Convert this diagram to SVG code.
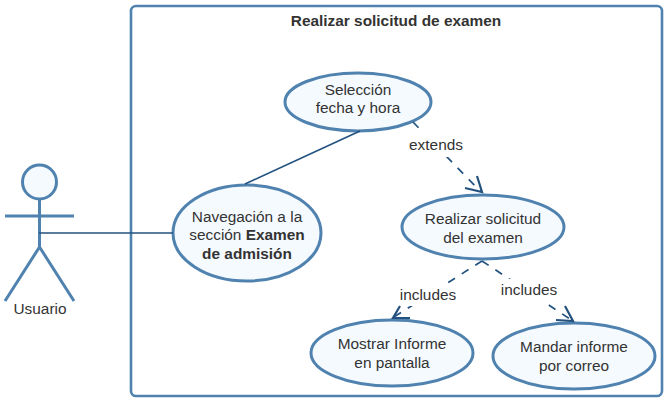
<svg xmlns="http://www.w3.org/2000/svg" width="670" height="404" viewBox="0 0 670 404">
<style>
text{font-family:"Liberation Sans",Arial,sans-serif;font-size:15.4px;fill:#333;text-anchor:middle}
.b{font-weight:bold}
.uc{fill:#f5faff;stroke:#5082b0;stroke-width:3}
.act{fill:none;stroke:#5082b0;stroke-width:3}
.c{fill:none;stroke:#23527f;stroke-width:1.7}
.d{stroke-dasharray:8 8}
.h{fill:none;stroke:#23527f;stroke-width:2.2}
.lb{fill:#fff;stroke:none}
</style>
<rect width="670" height="404" fill="#fff"/>
<g id="boundary"><rect x="131" y="6" width="531" height="390" rx="5" fill="#fff" stroke="#5082b0" stroke-width="2.6"/><text x="396" y="26" class="b">Realizar solicitud de examen</text></g>
<g id="actor"><circle class="act" cx="39.500" cy="182" r="17" style="fill:#f5faff"/><path class="act" d="M39.500 199V247M5 216H74M39.500 247L5 301M39.500 247L74 301"/><text x="40" y="314">Usuario</text></g>
<g id="uc-seleccion"><ellipse class="uc" cx="358" cy="102" rx="73" ry="29"/><text x="358" y="95">Selección</text><text x="358" y="113">fecha y hora</text></g>
<g id="uc-navegacion"><ellipse class="uc" cx="247" cy="233" rx="74" ry="48"/><text x="247" y="222">Navegación a la</text><text x="247" y="240">sección <tspan class="b">Examen</tspan></text><text x="247" y="259" class="b">de admisión</text></g>
<g id="uc-realizar"><ellipse class="uc" cx="483" cy="227" rx="81" ry="32"/><text x="483" y="224">Realizar solicitud</text><text x="483" y="243">del examen</text></g>
<g id="uc-mostrar"><ellipse class="uc" cx="392" cy="353" rx="81" ry="33"/><text x="392" y="349">Mostrar Informe</text><text x="392" y="368">en pantalla</text></g>
<g id="uc-mandar"><ellipse class="uc" cx="574" cy="356" rx="81" ry="33"/><text x="574" y="352">Mandar informe</text><text x="574" y="371">por correo</text></g>
<g id="connectors">
<path class="c" d="M39 233H173"/>
<path class="c" d="M245 184L360 131"/>
<path class="c d" d="M413 122L481 192"/>
<rect class="lb" x="404" y="133" width="66" height="24"/>
<text x="436" y="150">extends</text>
<path class="c d" d="M482 261L394 317"/>
<path class="c d" d="M482 261L573 321"/>
<rect class="lb" x="396" y="284" width="64" height="22"/>
<text x="428" y="300">includes</text>
<rect class="lb" x="497" y="279" width="64" height="22"/>
<text x="529" y="295">includes</text>
<path class="h" d="M477 176L482 192L465 188"/>
<path class="h" d="M400 306L393 318L410 318"/>
<path class="h" d="M565 306L573 321L556 320"/>
</g>
</svg>
